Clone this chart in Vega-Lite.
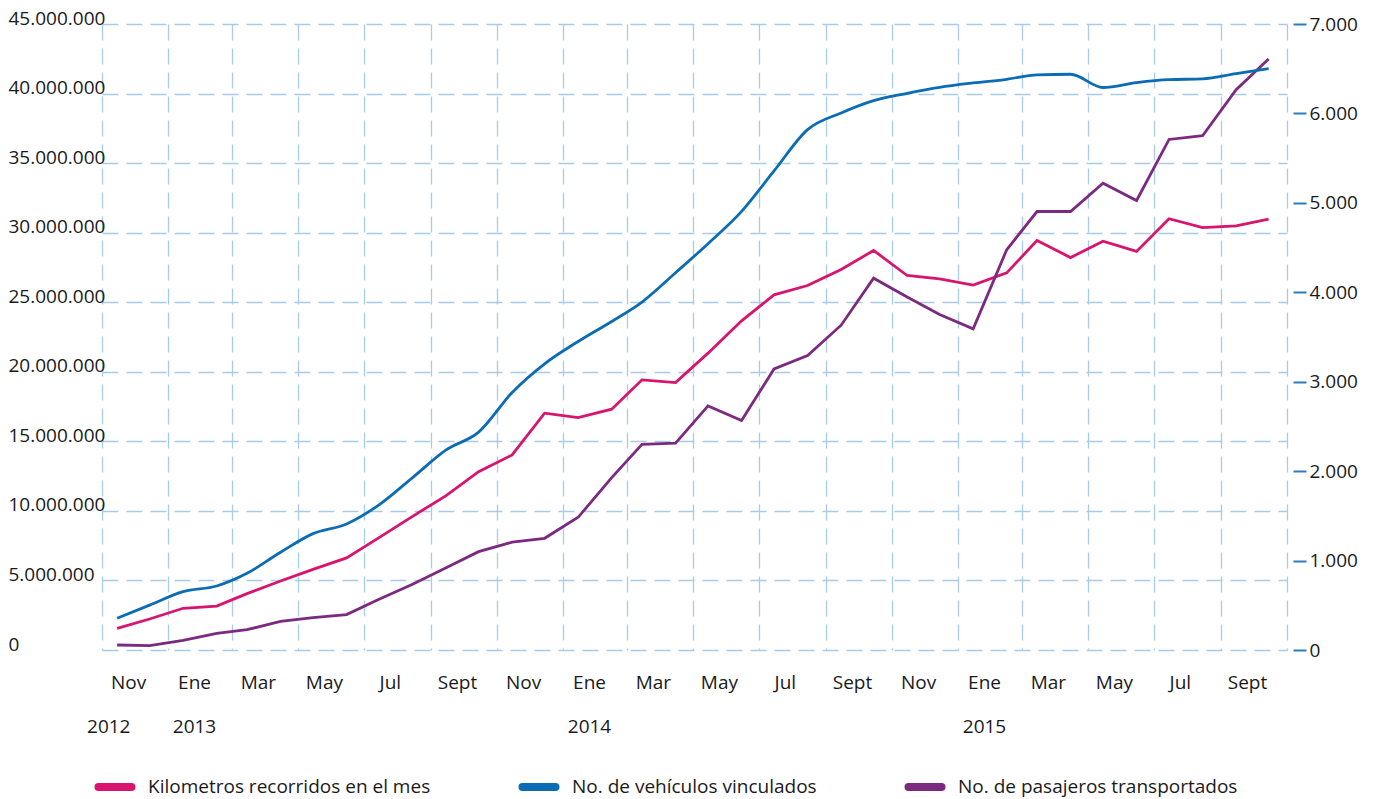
{
  "$schema": "https://vega.github.io/schema/vega-lite/v6.json",
  "width": 1185,
  "height": 626,
  "autosize": {"type": "none"},
  "padding": {"left": 102, "top": 24, "right": 86, "bottom": 149},
  "background": "white",
  "data": {
    "values": [
      {"fecha": "2012-11-15", "km": 1560000, "veh": 355, "pas": 360000},
      {"fecha": "2012-12-15", "km": 2230000, "veh": 502, "pas": 310000},
      {"fecha": "2013-01-15", "km": 3000000, "veh": 652, "pas": 700000},
      {"fecha": "2013-02-15", "km": 3160000, "veh": 716, "pas": 1200000},
      {"fecha": "2013-03-15", "km": 4050000, "veh": 858, "pas": 1460000},
      {"fecha": "2013-04-15", "km": 4960000, "veh": 1093, "pas": 2060000},
      {"fecha": "2013-05-15", "km": 5800000, "veh": 1301, "pas": 2320000},
      {"fecha": "2013-06-15", "km": 6620000, "veh": 1410, "pas": 2550000},
      {"fecha": "2013-07-15", "km": 8080000, "veh": 1623, "pas": 3650000},
      {"fecha": "2013-08-15", "km": 9610000, "veh": 1928, "pas": 4720000},
      {"fecha": "2013-09-15", "km": 11100000, "veh": 2238, "pas": 5920000},
      {"fecha": "2013-10-15", "km": 12820000, "veh": 2436, "pas": 7070000},
      {"fecha": "2013-11-15", "km": 14020000, "veh": 2879, "pas": 7750000},
      {"fecha": "2013-12-15", "km": 17020000, "veh": 3200, "pas": 8030000},
      {"fecha": "2014-01-15", "km": 16710000, "veh": 3450, "pas": 9540000},
      {"fecha": "2014-02-15", "km": 17310000, "veh": 3674, "pas": 12390000},
      {"fecha": "2014-03-15", "km": 19420000, "veh": 3891, "pas": 14790000},
      {"fecha": "2014-04-15", "km": 19220000, "veh": 4219, "pas": 14870000},
      {"fecha": "2014-05-15", "km": 21340000, "veh": 4543, "pas": 17550000},
      {"fecha": "2014-06-15", "km": 23660000, "veh": 4905, "pas": 16490000},
      {"fecha": "2014-07-15", "km": 25530000, "veh": 5357, "pas": 20200000},
      {"fecha": "2014-08-15", "km": 26200000, "veh": 5819, "pas": 21170000},
      {"fecha": "2014-09-15", "km": 27350000, "veh": 6005, "pas": 23350000},
      {"fecha": "2014-10-15", "km": 28720000, "veh": 6143, "pas": 26730000},
      {"fecha": "2014-11-15", "km": 26920000, "veh": 6225, "pas": 25370000},
      {"fecha": "2014-12-15", "km": 26680000, "veh": 6292, "pas": 24110000},
      {"fecha": "2015-01-15", "km": 26230000, "veh": 6341, "pas": 23090000},
      {"fecha": "2015-02-15", "km": 27110000, "veh": 6382, "pas": 28770000},
      {"fecha": "2015-03-15", "km": 29440000, "veh": 6431, "pas": 31520000},
      {"fecha": "2015-04-15", "km": 28210000, "veh": 6438, "pas": 31520000},
      {"fecha": "2015-05-15", "km": 29390000, "veh": 6290, "pas": 33560000},
      {"fecha": "2015-06-15", "km": 28650000, "veh": 6345, "pas": 32310000},
      {"fecha": "2015-07-15", "km": 31000000, "veh": 6378, "pas": 36700000},
      {"fecha": "2015-08-15", "km": 30360000, "veh": 6386, "pas": 36970000},
      {"fecha": "2015-09-15", "km": 30490000, "veh": 6445, "pas": 40280000},
      {"fecha": "2015-10-15", "km": 30980000, "veh": 6501, "pas": 42480000}
    ]
  },
  "encoding": {
    "x": {
      "field": "fecha",
      "type": "temporal",
      "scale": {
        "type": "utc",
        "nice": false,
        "domain": [
          {"year": 2012, "month": 11, "date": 1, "utc": true},
          {"year": 2015, "month": 11, "date": 1, "utc": true}
        ]
      },
      "axis": {
        "title": null,
        "grid": true,
        "gridColor": "#a9cbe8",
        "gridWidth": 1.3,
        "gridDash": [16, 8],
        "tickCount": {"interval": "month", "step": 2},
        "domain": false,
        "ticks": false,
        "labelAlign": "center",
        "labelOffset": 26,
        "labelBaseline": "top",
        "labelPadding": 23,
        "labelLineHeight": 44,
        "labelOverlap": false,
        "labelFlush": false,
        "labelFont": "Open Sans",
        "labelFontSize": 19,
        "labelColor": "#1a1a1a",
        "labelExpr": "(utcyear(datum.value) == 2015 && utcmonth(datum.value) == 10) ? '' : (utcyear(datum.value) == 2012 ? ['Nov', '2012\u00a0\u00a0\u00a0\u00a0\u00a0\u00a0\u00a0\u00a0\u200b'] : (utcmonth(datum.value) == 0 ? ['Ene', '' + utcyear(datum.value)] : ['Ene','Feb','Mar','Abr','May','Jun','Jul','Ago','Sept','Oct','Nov','Dic'][utcmonth(datum.value)]))"
      }
    }
  },
  "layer": [
    {
      "mark": {"type": "line", "strokeWidth": 2.8},
      "encoding": {
        "y": {
          "field": "km",
          "type": "quantitative",
          "scale": {"domain": [0, 45000000], "nice": false},
          "axis": {
            "title": null,
            "values": [0, 5000000, 10000000, 15000000, 20000000, 25000000, 30000000, 35000000, 40000000, 45000000],
            "grid": true,
            "gridColor": "#a9cbe8",
            "gridWidth": 1.3,
            "gridDash": [16, 8],
            "domain": false,
            "ticks": false,
            "labelAlign": "left",
            "labelBaseline": "alphabetic",
            "labelPadding": 94,
            "labelFont": "Open Sans",
            "labelFontSize": 19,
            "labelColor": "#1a1a1a",
            "labelExpr": "replace(format(datum.value, ','), regexp(',', 'g'), '.')"
          }
        },
        "color": {
          "datum": "Kilometros recorridos en el mes",
          "type": "nominal",
          "scale": {
            "domain": ["Kilometros recorridos en el mes", "No. de vehículos vinculados", "No. de pasajeros transportados"],
            "range": ["#d8146f", "#0b6cb5", "#7b2a80"]
          },
          "legend": {
            "title": null,
            "orient": "none",
            "legendX": -9,
            "legendY": 741,
            "direction": "horizontal",
            "symbolType": "M-0.825,-0.1L0.825,-0.1A0.1,0.1,0,0,1,0.825,0.1L-0.825,0.1A0.1,0.1,0,0,1,-0.825,-0.1Z",
            "symbolSize": 1600,
            "symbolStrokeWidth": 4,
            "labelFont": "Open Sans",
            "labelFontSize": 19,
            "labelColor": "#1a1a1a",
            "labelLimit": 0,
            "labelOffset": 11,
            "columnPadding": 81,
            "padding": 0
          }
        }
      }
    },
    {
      "mark": {"type": "line", "strokeWidth": 2.8},
      "encoding": {
        "y": {
          "field": "pas",
          "type": "quantitative",
          "scale": {"domain": [0, 45000000], "nice": false},
          "axis": null
        },
        "color": {"datum": "No. de pasajeros transportados", "type": "nominal"}
      }
    },
    {
      "mark": {"type": "line", "strokeWidth": 2.8, "interpolate": "monotone"},
      "encoding": {
        "y": {
          "field": "veh",
          "type": "quantitative",
          "scale": {"domain": [0, 7000], "nice": false},
          "axis": {
            "title": null,
            "orient": "right",
            "values": [0, 1000, 2000, 3000, 4000, 5000, 6000, 7000],
            "grid": false,
            "domain": false,
            "ticks": true,
            "tickSize": 13,
            "tickWidth": 2,
            "tickColor": "#2a7bbf",
            "offset": 6,
            "labelPadding": 3,
            "labelBaseline": "middle",
            "labelDy": -3,
            "labelFont": "Open Sans",
            "labelFontSize": 19,
            "labelColor": "#1a1a1a",
            "labelExpr": "replace(format(datum.value, ','), regexp(',', 'g'), '.')"
          }
        },
        "color": {"datum": "No. de vehículos vinculados", "type": "nominal"}
      }
    }
  ],
  "resolve": {"scale": {"y": "independent"}},
  "config": {
    "view": {"stroke": null},
    "font": "Open Sans"
  }
}
